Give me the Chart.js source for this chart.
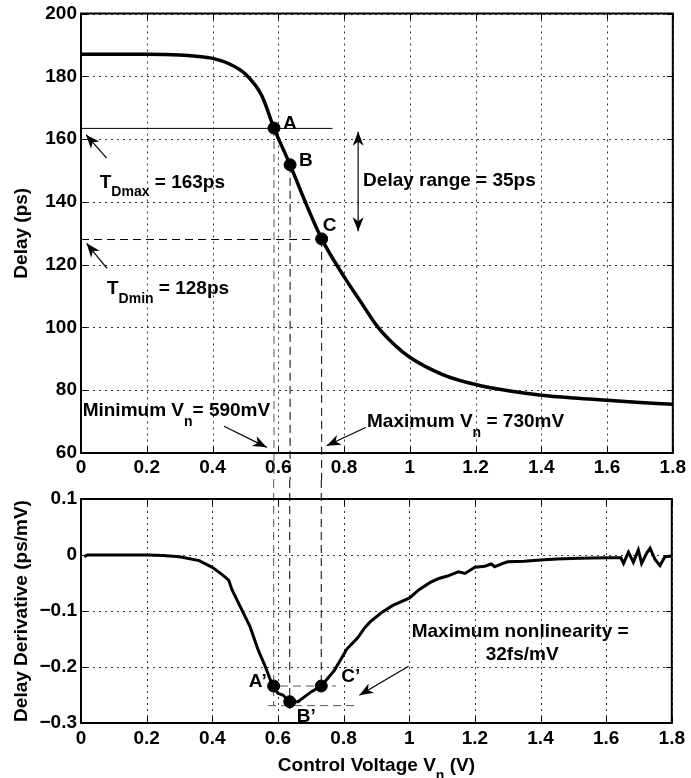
<!DOCTYPE html>
<html>
<head>
<meta charset="utf-8">
<script src="https://cdn.jsdelivr.net/npm/chart.js@4.4.1/dist/chart.umd.min.js"></script>
<style>
  html, body { margin: 0; padding: 0; background: #fff; }
  #wrap { position: relative; width: 691px; height: 778px; }
  canvas { position: absolute; left: 0; }
  #delayChart { top: 0; }
  #derivChart { top: 480px; }
</style>
</head>
<body>
<div id="wrap">
  <canvas id="delayChart" width="691" height="480"></canvas>
  <canvas id="derivChart" width="691" height="298"></canvas>
</div>
<script>
// delay vs control voltage (top plot)
const voltage = [0, 0.1, 0.2, 0.3, 0.35, 0.4, 0.45, 0.5, 0.55, 0.587, 0.636, 0.68, 0.732, 0.8, 0.85, 0.9, 0.95, 1.0, 1.1, 1.2, 1.3, 1.4, 1.5, 1.6, 1.7, 1.8];
const delay = [187.0, 187.0, 187.0, 186.8, 186.4, 185.7, 184.0, 180.7, 173.8, 163.5, 151.8, 140.5, 128.2, 116.2, 108.3, 100.5, 94.8, 90.5, 85.0, 81.8, 79.8, 78.4, 77.5, 76.8, 76.1, 75.5];

// delay derivative (bottom plot)
const derivVoltage = [0.01, 0.02, 0.1, 0.2, 0.25, 0.3, 0.36, 0.4, 0.43, 0.45, 0.46, 0.49, 0.515, 0.54, 0.56, 0.584, 0.6, 0.615, 0.636, 0.661, 0.702, 0.732, 0.772, 0.81, 0.843, 0.863, 0.88, 0.913, 0.95, 1.0, 1.03, 1.064, 1.09, 1.114, 1.15, 1.17, 1.2, 1.23, 1.25, 1.26, 1.286, 1.3, 1.35, 1.4, 1.45, 1.517, 1.6, 1.645, 1.653, 1.668, 1.683, 1.698, 1.708, 1.724, 1.734, 1.749, 1.764, 1.779, 1.8];
const derivative = [-0.003, 0.0, 0.0, 0.0, -0.001, -0.003, -0.01, -0.022, -0.035, -0.045, -0.062, -0.098, -0.128, -0.17, -0.197, -0.234, -0.247, -0.25, -0.262, -0.262, -0.244, -0.234, -0.206, -0.168, -0.148, -0.131, -0.12, -0.104, -0.09, -0.077, -0.062, -0.049, -0.042, -0.038, -0.03, -0.033, -0.022, -0.02, -0.016, -0.021, -0.015, -0.012, -0.011, -0.009, -0.007, -0.006, -0.005, -0.005, -0.015, 0.005, -0.013, 0.009, -0.015, 0.004, 0.012, -0.008, -0.019, -0.003, -0.002];

// marked operating points A, B, C
const markNames = ['A', 'B', 'C'];
const markVoltage = [0.587, 0.636, 0.732];
const markDelay = [163.5, 151.8, 128.2];
const markDeriv = [-0.234, -0.262, -0.234];

const tDmax = 163.4;
const tDmin = 128;
const derivBand = [-0.234, -0.269];

const xTicks = [0, 0.2, 0.4, 0.6, 0.8, 1, 1.2, 1.4, 1.6, 1.8];
const delayTicks = [60, 80, 100, 120, 140, 160, 180, 200];
const derivTicks = [-0.3, -0.2, -0.1, 0, 0.1];

const FONT = '"Liberation Sans", Arial, Helvetica, sans-serif';
Chart.defaults.font.family = FONT;
Chart.defaults.color = '#000';

const fmtTick = v => String(Math.round(v * 10) / 10).replace('-', '\u2212');
const tickFont = { size: 19, weight: 'bold', lineHeight: 1 };

function xScale(height, pad) {
    return {
        type: 'linear', min: 0, max: 1.8,
        afterBuildTicks: s => { s.ticks = xTicks.map(v => ({ value: v })); },
        afterFit: s => { s.height = height; },
        ticks: { font: tickFont, padding: pad, maxRotation: 0, autoSkip: false, callback: fmtTick },
        grid: { display: false, drawTicks: false },
        border: { display: false }
    };
}

function yScale(min, max, ticks, title) {
    return {
        type: 'linear', min, max,
        afterBuildTicks: s => { s.ticks = ticks.map(v => ({ value: v })); },
        afterFit: s => { s.width = 81; },
        ticks: { font: tickFont, padding: 4, autoSkip: false, callback: fmtTick },
        grid: { display: false, drawTicks: false },
        border: { display: false },
        title: { display: true, text: title, font: { size: 19, weight: 'bold' }, padding: { top: 10, bottom: 0 } }
    };
}

// dotted grid, box and inward tick marks, like MATLAB
const framePlugin = {
    id: 'mlframe',
    beforeDatasetsDraw(chart) {
        const { ctx, chartArea: a, scales } = chart;
        ctx.save();
        ctx.strokeStyle = '#333';
        ctx.lineWidth = 1;
        ctx.setLineDash([2, 4]);
        ctx.beginPath();
        xTicks.forEach(v => {
            const px = Math.round(scales.x.getPixelForValue(v)) + 0.5;
            ctx.moveTo(px, a.top);
            ctx.lineTo(px, a.bottom);
        });
        scales.y.ticks.forEach(t => {
            const py = Math.round(scales.y.getPixelForValue(t.value)) + 0.5;
            ctx.moveTo(a.left, py);
            ctx.lineTo(a.right, py);
        });
        ctx.stroke();
        ctx.restore();
    },
    afterDraw(chart) {
        const { ctx, chartArea: a, scales } = chart;
        ctx.save();
        ctx.strokeStyle = '#000';
        ctx.lineWidth = 1;
        ctx.beginPath();
        scales.x.ticks.forEach(t => {
            const px = Math.round(scales.x.getPixelForValue(t.value)) + 0.5;
            ctx.moveTo(px, a.bottom); ctx.lineTo(px, a.bottom - 6);
            ctx.moveTo(px, a.top); ctx.lineTo(px, a.top + 6);
        });
        scales.y.ticks.forEach(t => {
            const py = Math.round(scales.y.getPixelForValue(t.value)) + 0.5;
            ctx.moveTo(a.left, py); ctx.lineTo(a.left + 6, py);
            ctx.moveTo(a.right, py); ctx.lineTo(a.right - 6, py);
        });
        ctx.stroke();
        ctx.lineWidth = 2;
        ctx.strokeRect(a.left, a.top, a.right - a.left, a.bottom - a.top);
        ctx.restore();
    }
};

function line(ctx, x1, y1, x2, y2, dash, color, width) {
    ctx.save();
    ctx.strokeStyle = color || '#000';
    ctx.lineWidth = width || 1;
    ctx.setLineDash(dash || []);
    ctx.beginPath();
    ctx.moveTo(x1, y1);
    ctx.lineTo(x2, y2);
    ctx.stroke();
    ctx.restore();
}

function head(ctx, x1, y1, x2, y2) {
    const ang = Math.atan2(y2 - y1, x2 - x1);
    ctx.save();
    ctx.translate(x2, y2);
    ctx.rotate(ang);
    ctx.fillStyle = '#000';
    ctx.beginPath();
    ctx.moveTo(0, 0);
    ctx.lineTo(-14, -5.5);
    ctx.lineTo(-10, 0);
    ctx.lineTo(-14, 5.5);
    ctx.closePath();
    ctx.fill();
    ctx.restore();
}

function arrow(ctx, x1, y1, x2, y2, both) {
    line(ctx, x1, y1, x2, y2, [], '#000', 1.2);
    head(ctx, x1, y1, x2, y2);
    if (both) head(ctx, x2, y2, x1, y1);
}

function text(ctx, str, x, y, align) {
    ctx.save();
    ctx.font = `bold 19px ${FONT}`;
    ctx.fillStyle = '#000';
    ctx.textAlign = align || 'left';
    ctx.textBaseline = 'alphabetic';
    ctx.fillText(str, x, y);
    ctx.restore();
}

function subText(ctx, x, y, main, sub, rest, drop) {
    ctx.save();
    ctx.fillStyle = '#000';
    ctx.textAlign = 'left';
    ctx.textBaseline = 'alphabetic';
    ctx.font = `bold 19px ${FONT}`;
    ctx.fillText(main, x, y);
    x += ctx.measureText(main).width;
    ctx.font = `bold 14px ${FONT}`;
    ctx.fillText(sub, x, y + drop);
    x += ctx.measureText(sub).width;
    ctx.font = `bold 19px ${FONT}`;
    ctx.fillText(rest, x, y);
    ctx.restore();
}

const delayNotes = {
    id: 'delayNotes',
    beforeDatasetsDraw(chart) {
        const { ctx, scales: { x, y } } = chart;
        line(ctx, x.getPixelForValue(0), y.getPixelForValue(tDmax), x.getPixelForValue(0.765), y.getPixelForValue(tDmax), [], '#000', 1);
        line(ctx, x.getPixelForValue(0), y.getPixelForValue(tDmin), x.getPixelForValue(markVoltage[2]), y.getPixelForValue(tDmin), [8, 5], '#000', 1);
        markVoltage.forEach((v, i) => {
            const px = x.getPixelForValue(v);
            line(ctx, px, y.getPixelForValue(markDelay[i]), px, chart.height, [8, 5], i === 0 ? '#555' : '#000', 1);
        });
    },
    afterDraw(chart) {
        const { ctx, scales: { x, y } } = chart;
        const P = (vx, vy) => [x.getPixelForValue(vx), y.getPixelForValue(vy)];
        markNames.forEach((n, i) => {
            const [px, py] = P(markVoltage[i], markDelay[i]);
            if (i < 2) text(ctx, n, px + 9, py + 1);
            else text(ctx, n, px + 1, py - 8);
        });
        arrow(ctx, ...P(0.078, 153.9), ...P(0.015, 161.4));
        arrow(ctx, ...P(0.079, 118.8), ...P(0.017, 126.8));
        subText(ctx, ...P(0.057, 144.4), 'T', 'Dmax', ' = 163ps', 8);
        subText(ctx, ...P(0.079, 110.8), 'T', 'Dmin', ' = 128ps', 9);
        arrow(ctx, ...P(0.843, 162.3), ...P(0.843, 130.6), true);
        text(ctx, 'Delay range = 35ps', ...P(0.858, 144.9));
        subText(ctx, ...P(0.005, 71.7), 'Minimum V', 'n', '= 590mV', 10);
        arrow(ctx, ...P(0.435, 68.5), ...P(0.565, 61.8));
        subText(ctx, ...P(0.87, 68.3), 'Maximum V', 'n', ' = 730mV', 10);
        arrow(ctx, ...P(0.866, 68.1), ...P(0.747, 62.3));
    }
};

const derivNotes = {
    id: 'derivNotes',
    beforeDatasetsDraw(chart) {
        const { ctx, scales: { x, y } } = chart;
        const ends = [derivBand[1], -0.28, markDeriv[2]];
        markVoltage.forEach((v, i) => {
            const px = x.getPixelForValue(v);
            line(ctx, px, 0, px, y.getPixelForValue(ends[i]), [8, 5], i === 0 ? '#555' : '#000', 1);
        });
        line(ctx, x.getPixelForValue(0.606), y.getPixelForValue(derivBand[0]), x.getPixelForValue(0.777), y.getPixelForValue(derivBand[0]), [8, 5], '#555', 1);
        line(ctx, x.getPixelForValue(0.57), y.getPixelForValue(derivBand[1]), x.getPixelForValue(0.84), y.getPixelForValue(derivBand[1]), [8, 5], '#555', 1);
    },
    afterDraw(chart) {
        const { ctx, scales: { x, y } } = chart;
        const P = (vx, vy) => [x.getPixelForValue(vx), y.getPixelForValue(vy)];
        const [ax, ay] = P(markVoltage[0], markDeriv[0]);
        text(ctx, 'A\u2019', ax - 7, ay + 1, 'right');
        const [bx, by] = P(markVoltage[1], markDeriv[1]);
        text(ctx, 'B\u2019', bx + 7, by + 20);
        const [cx, cy] = P(markVoltage[2], markDeriv[2]);
        text(ctx, 'C\u2019', cx + 20, cy - 4);
        text(ctx, 'Maximum nonlinearity =', ...P(1.338, -0.146), 'center');
        text(ctx, '32fs/mV', ...P(1.344, -0.1877), 'center');
        arrow(ctx, ...P(0.998, -0.1986), ...P(0.848, -0.2504));
        // x axis title with subscript
        ctx.save();
        ctx.font = `bold 19px ${FONT}`;
        const w1 = ctx.measureText('Control Voltage V').width;
        const w3 = ctx.measureText(' (V)').width;
        ctx.font = `bold 14px ${FONT}`;
        const w2 = ctx.measureText('n').width;
        ctx.restore();
        const mid = (chart.chartArea.left + chart.chartArea.right) / 2;
        subText(ctx, mid - (w1 + w2 + w3) / 2, chart.height - 7, 'Control Voltage V', 'n', ' (V)', 9);
    }
};

const baseOptions = (padTop) => ({
    responsive: false,
    animation: false,
    layout: { padding: { top: padTop, right: 14, left: 0, bottom: 0 } },
    plugins: { legend: { display: false }, tooltip: { enabled: false } }
});

new Chart(document.getElementById('delayChart').getContext('2d'), {
    type: 'scatter',
    data: {
        datasets: [
            {
                data: voltage.map((v, i) => ({ x: v, y: delay[i] })),
                showLine: true,
                borderColor: '#000',
                borderWidth: 3.5,
                pointRadius: 0,
                cubicInterpolationMode: 'monotone'
            },
            {
                data: markVoltage.map((v, i) => ({ x: v, y: markDelay[i] })),
                showLine: false,
                pointRadius: 6,
                backgroundColor: '#000',
                borderColor: '#000'
            }
        ]
    },
    options: {
        ...baseOptions(11),
        scales: {
            x: xScale(27, 5),
            y: yScale(60, 200, delayTicks, 'Delay (ps)')
        }
    },
    plugins: [framePlugin, delayNotes]
});

new Chart(document.getElementById('derivChart').getContext('2d'), {
    type: 'scatter',
    data: {
        datasets: [
            {
                data: derivVoltage.map((v, i) => ({ x: v, y: derivative[i] })),
                showLine: true,
                borderColor: '#000',
                borderWidth: 3,
                pointRadius: 0,
                tension: 0
            },
            {
                data: markVoltage.map((v, i) => ({ x: v, y: markDeriv[i] })),
                showLine: false,
                pointRadius: 6,
                backgroundColor: '#000',
                borderColor: '#000'
            }
        ]
    },
    options: {
        ...baseOptions(19),
        scales: {
            x: xScale(55, 6),
            y: yScale(-0.3, 0.1, derivTicks, 'Delay Derivative (ps/mV)')
        }
    },
    plugins: [framePlugin, derivNotes]
});
</script>
</body>
</html>
